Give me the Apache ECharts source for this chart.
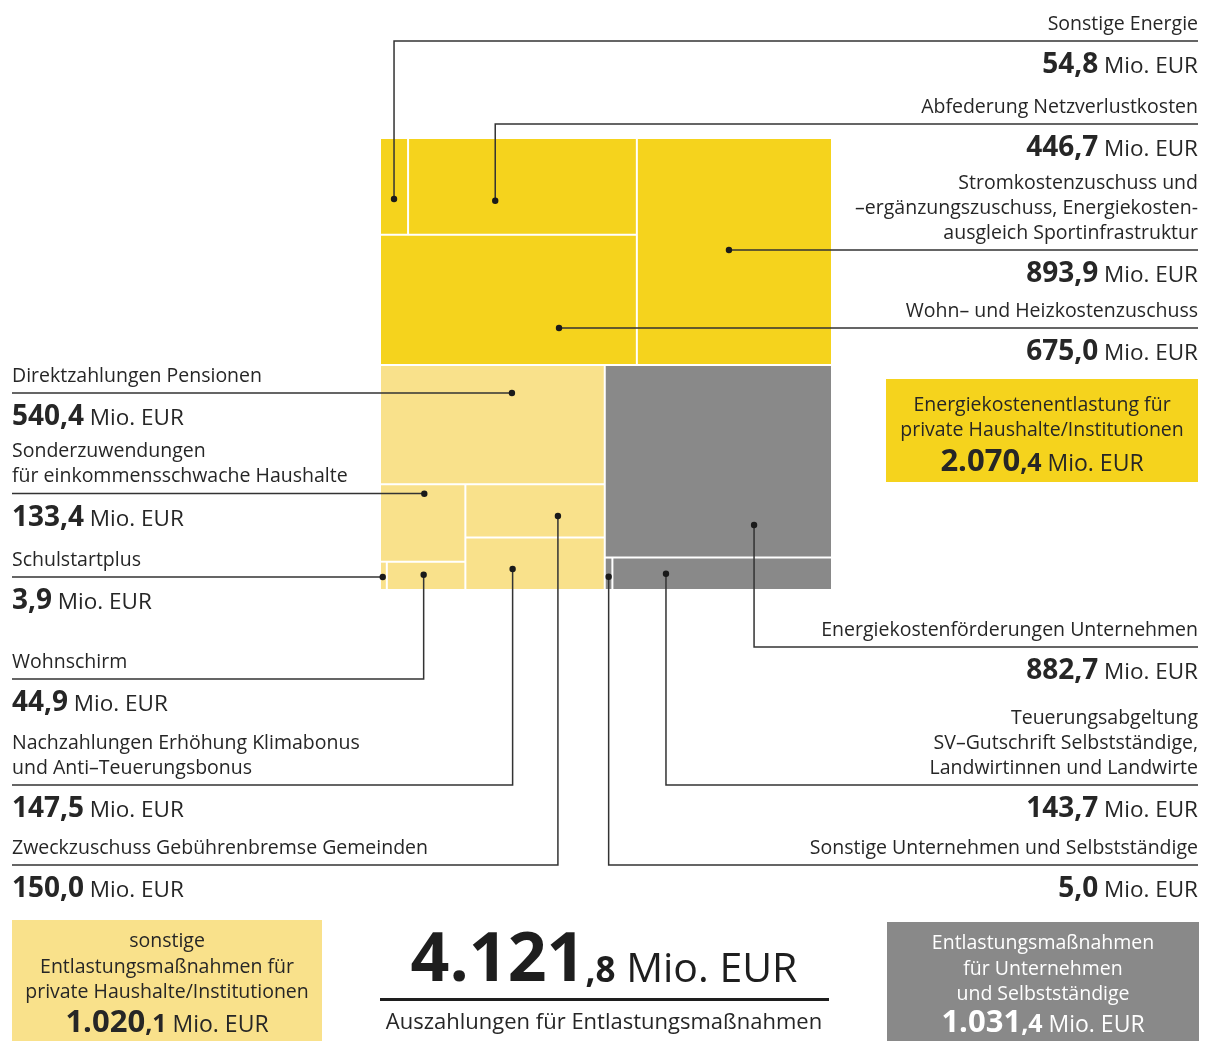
<!DOCTYPE html>
<html><head><meta charset="utf-8">
<script src="https://cdn.jsdelivr.net/npm/echarts@6/dist/echarts.min.js"></script>
<style>html,body{margin:0;padding:0;background:#fff}#c{width:1207px;height:1041px}</style>
</head><body><div id="c"></div>
<script>
// ---------------- data ----------------
const leafNames = [
  'Sonstige Energie',
  'Abfederung Netzverlustkosten',
  'Stromkostenzuschuss und\n–ergänzungszuschuss, Energiekosten-\nausgleich Sportinfrastruktur',
  'Wohn– und Heizkostenzuschuss',
  'Direktzahlungen Pensionen',
  'Sonderzuwendungen\nfür einkommensschwache Haushalte',
  'Schulstartplus',
  'Wohnschirm',
  'Zweckzuschuss Gebührenbremse Gemeinden',
  'Nachzahlungen Erhöhung Klimabonus\nund Anti–Teuerungsbonus',
  'Energiekostenförderungen Unternehmen',
  'Sonstige Unternehmen und Selbstständige',
  'Teuerungsabgeltung\nSV–Gutschrift Selbstständige,\nLandwirtinnen und Landwirte'
];
const leafValues = [54.8, 446.7, 893.9, 675.0, 540.4, 133.4, 3.9, 44.9, 150.0, 147.5, 882.7, 5.0, 143.7];
const leafGroup = [0, 0, 0, 0, 1, 1, 1, 1, 1, 1, 2, 2, 2];
const groupNames = [
  'Energiekostenentlastung für\nprivate Haushalte/Institutionen',
  'sonstige\nEntlastungsmaßnahmen für\nprivate Haushalte/Institutionen',
  'Entlastungsmaßnahmen\nfür Unternehmen\nund Selbstständige'
];
const groupTotals = [2070.4, 1020.1, 1031.4];
const grandTotal = 4121.8;
const totalCaption = 'Auszahlungen für Entlastungsmaßnahmen';
const unitText = 'Mio. EUR';

// ---------------- layout / style ----------------
const FONT = "'Open Sans', 'Noto Sans', sans-serif";
const TEXT = '#262626';
const LINE = '#333333';
const groupColors = ['#F5D31D', '#F9E18B', '#898989'];
// guillotine split structure (h = side by side, v = stacked); numbers = leaf index
const splitTree = ['v', [
  ['h', [['v', [['h', [0, 1]], 3]], 2]],
  ['h', [
    ['v', [4, ['h', [['v', [5, ['h', [6, 7]]]], ['v', [8, 9]]]]]],
    ['v', [10, ['h', [11, 12]]]]
  ]]
]];
// callout anchors: dot position as fraction inside its cell, label underline y
const callouts = [
  {side: 'right', lineY: 41, fx: 0.50, fy: 0.63},
  {side: 'right', lineY: 124, fx: 0.381, fy: 0.648},
  {side: 'right', lineY: 250, fx: 0.472, fy: 0.493},
  {side: 'right', lineY: 328, fx: 0.697, fy: 0.716},
  {side: 'left', lineY: 393, fx: 0.587, fy: 0.235},
  {side: 'left', lineY: 493.5, fx: 0.519, fy: 0.123},
  {side: 'left', lineY: 577, fx: 0.40, fy: 0.54},
  {side: 'left', lineY: 679, fx: 0.469, fy: 0.46},
  {side: 'left', lineY: 865, fx: 0.664, fy: 0.597},
  {side: 'left', lineY: 785, fx: 0.339, fy: 0.60},
  {side: 'right', lineY: 647, fx: 0.657, fy: 0.831},
  {side: 'right', lineY: 865, fx: 0.51, fy: 0.59},
  {side: 'right', lineY: 785, fx: 0.244, fy: 0.50}
];
const RIGHT_X = 1198, LEFT_X = 12;
const groupBoxes = [
  {x: 886, y: 379, w: 312, h: 103, cx: 1042, lineBase: [410, 435], valueBase: 470, color: TEXT},
  {x: 12, y: 920, w: 310, h: 121, cx: 167, lineBase: [946, 972, 997], valueBase: 1031, color: TEXT},
  {x: 887, y: 922, w: 312, h: 119, cx: 1043, lineBase: [948, 974, 999], valueBase: 1031, color: '#ffffff'}
];

// ---------------- helpers ----------------
const K = 0.30, K0 = 1.5;
const mctx = document.createElement('canvas').getContext('2d');
function textWidth(t, size, weight) {
  mctx.font = (weight || 'normal') + ' ' + size + 'px ' + FONT;
  return mctx.measureText(t).width;
}
function textEl(t, x, baseline, size, weight, color, align) {
  return {type: 'text', x: x, y: baseline - K * size + K0, silent: true, z2: 10,
    style: {text: t, fill: color, fontSize: size, fontWeight: weight || 'normal', fontFamily: FONT,
      align: align || 'left', verticalAlign: 'middle'}};
}
function runEls(parts, x, baseline, align) {
  const ws = parts.map(p => textWidth(p.t, p.size, p.weight));
  const tot = ws.reduce((a, b) => a + b, 0);
  let cx = align === 'right' ? x - tot : align === 'center' ? x - tot / 2 : x;
  return parts.map((p, k) => { const el = textEl(p.t, cx, baseline, p.size, p.weight, p.color, 'left'); cx += ws[k]; return el; });
}
function splitNum(v) {
  const s = v.toFixed(1).split('.');
  return [s[0].replace(/\B(?=(\d{3})+(?!\d))/g, '.'), ',' + s[1]];
}
function nodeSum(n) { return typeof n === 'number' ? leafValues[n] : n[1].reduce((s, c) => s + nodeSum(c), 0); }
const cellRects = [];
function slice(n, x0, y0, x1, y1) {
  if (typeof n === 'number') { cellRects[n] = [x0, y0, x1, y1]; return; }
  const total = nodeSum(n);
  let pos = n[0] === 'h' ? x0 : y0;
  n[1].forEach(c => {
    const f = nodeSum(c) / total;
    if (n[0] === 'h') { const w = (x1 - x0) * f; slice(c, pos, y0, pos + w, y1); pos += w; }
    else { const h = (y1 - y0) * f; slice(c, x0, pos, x1, pos + h); pos += h; }
  });
}
slice(splitTree, 0, 0, 1, 1);

const seriesData = leafValues.map((v, i) => ({
  name: leafNames[i],
  value: [cellRects[i][0], cellRects[i][1], cellRects[i][2], cellRects[i][3], v, i]
}));

function renderCell(params, api) {
  const i = api.value(5);
  const p0 = api.coord([api.value(0), api.value(1)]);
  const p1 = api.coord([api.value(2), api.value(3)]);
  const g = 1;
  return {type: 'rect', shape: {x: p0[0] + g, y: p0[1] + g, width: p1[0] - p0[0] - 2 * g, height: p1[1] - p0[1] - 2 * g},
    style: {fill: groupColors[leafGroup[i]]}};
}
function renderCallout(params, api) {
  const i = api.value(5);
  const c = callouts[i];
  const p0 = api.coord([api.value(0), api.value(1)]);
  const p1 = api.coord([api.value(2), api.value(3)]);
  const dx = p0[0] + (p1[0] - p0[0]) * c.fx;
  const dy = p0[1] + (p1[1] - p0[1]) * c.fy;
  const ex = c.side === 'right' ? RIGHT_X : LEFT_X;
  const align = c.side === 'right' ? 'right' : 'left';
  const children = [
    {type: 'polyline', shape: {points: [[dx, dy], [dx, c.lineY], [ex, c.lineY]]}, style: {stroke: LINE, lineWidth: 1.5, fill: null}},
    {type: 'circle', shape: {cx: dx, cy: dy, r: 3.2}, style: {fill: '#1a1a1a'}}
  ];
  const lines = leafNames[i].split('\n');
  const lastBase = c.lineY - 12.5;
  lines.forEach((ln, k) => {
    children.push(textEl(ln, ex, lastBase - (lines.length - 1 - k) * 25, 19.5, 'normal', TEXT, align));
  });
  const num = splitNum(api.value(4));
  runEls([
    {t: num[0] + num[1], size: 28, weight: 'bold', color: TEXT},
    {t: ' ' + unitText, size: 22.5, weight: 'normal', color: TEXT}
  ], ex, c.lineY + 31, align).forEach(e => children.push(e));
  return {type: 'group', children: children};
}

// ---------------- graphic annotations ----------------
const graphic = [];
groupBoxes.forEach((b, gi) => {
  graphic.push({type: 'rect', shape: {x: b.x, y: b.y, width: b.w, height: b.h}, style: {fill: groupColors[gi]}, silent: true, z: 0});
  const lines = groupNames[gi].split('\n');
  lines.forEach((ln, k) => graphic.push(textEl(ln, b.cx, b.lineBase[k], 19.5, 'normal', b.color, 'center')));
  const num = splitNum(groupTotals[gi]);
  runEls([
    {t: num[0], size: 31, weight: 'bold', color: b.color},
    {t: num[1], size: 25, weight: 'bold', color: b.color},
    {t: ' ' + unitText, size: 23, weight: 'normal', color: b.color}
  ], b.cx, b.valueBase, 'center').forEach(e => graphic.push(e));
});
const tn = splitNum(grandTotal);
runEls([
  {t: tn[0], size: 68, weight: 'bold', color: '#1e1e1e'},
  {t: tn[1], size: 35, weight: 'bold', color: '#1e1e1e'},
  {t: ' ' + unitText, size: 41, weight: 'normal', color: '#1e1e1e'}
], 604, 981, 'center').forEach(e => graphic.push(e));
graphic.push({type: 'line', shape: {x1: 380, y1: 999.5, x2: 829, y2: 999.5}, style: {stroke: '#1e1e1e', lineWidth: 3}, silent: true});
graphic.push(textEl(totalCaption, 604, 1028, 22, 'normal', TEXT, 'center'));

// ---------------- chart ----------------
const chart = echarts.init(document.getElementById('c'), null, {renderer: 'canvas'});
chart.setOption({
  animation: false,
  backgroundColor: '#ffffff',
  grid: {left: 380, top: 138, width: 452, height: 452},
  xAxis: {type: 'value', min: 0, max: 1, show: false},
  yAxis: {type: 'value', min: 0, max: 1, inverse: true, show: false},
  series: [
    {type: 'custom', name: 'cells', coordinateSystem: 'cartesian2d', data: seriesData,
      encode: {x: [0, 2], y: [1, 3]}, renderItem: renderCell, clip: false, silent: true, z: 1},
    {type: 'custom', name: 'callouts', coordinateSystem: 'cartesian2d', data: seriesData,
      encode: {x: [0, 2], y: [1, 3]}, renderItem: renderCallout, clip: false, silent: true, z: 5}
  ],
  graphic: graphic
});
</script></body></html>
